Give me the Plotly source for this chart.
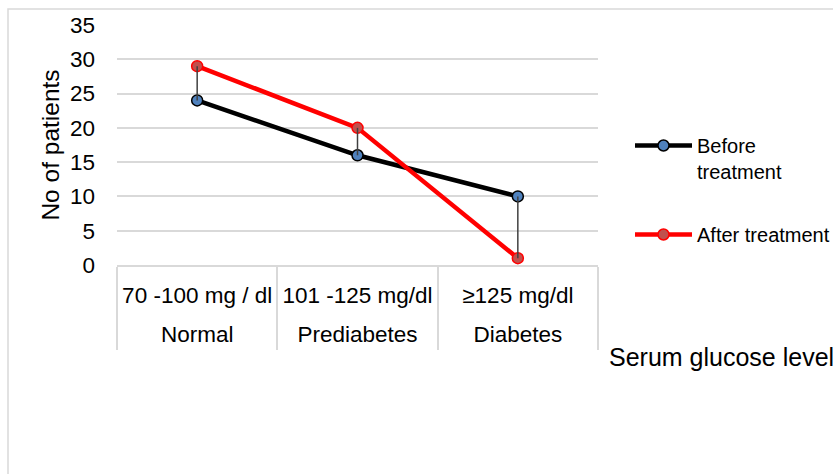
import plotly.graph_objects as go

groups = ["Normal", "Prediabetes", "Diabetes"]
ranges = ["70 -100 mg / dl", "101 -125 mg/dl", "≥125 mg/dl"]
before = [24, 16, 10]
after = [29, 20, 1]

low = [min(b, a) for b, a in zip(before, after)]
span = [abs(b - a) for b, a in zip(before, after)]

FONT = "Liberation Sans, Arial, sans-serif"
L, R, T, B = 117, 235, 25, 209
W, H = 833, 474
pw = W - L - R
ph = H - T - B


def px_x(p):
    return (p - L) / pw


def px_y(p):
    return (H - B - p) / ph


fig = go.Figure()
fig.add_trace(go.Scatter(
    x=ranges, y=before, name="Before<br>treatment", mode="lines+markers",
    line=dict(color="#000000", width=4.5),
    marker=dict(size=11, color="#4f81bd", line=dict(color="#000000", width=1.5)),
    legendgroup="a",
))
fig.add_trace(go.Scatter(
    x=ranges, y=after, name="After treatment", mode="lines+markers",
    line=dict(color="#ff0000", width=4.5),
    marker=dict(size=11, color="#c0504d", line=dict(color="#ff0000", width=1.5)),
    legendgroup="b",
))
fig.add_trace(go.Scatter(
    x=ranges, y=low, mode="markers", showlegend=False, hoverinfo="skip",
    marker=dict(size=1, opacity=0),
    error_y=dict(type="data", symmetric=False, array=span, arrayminus=[0, 0, 0],
                 width=0, thickness=1.5, color="#404040"),
))
# invisible trace on the secondary axis carrying the group labels
fig.add_trace(go.Scatter(
    x=groups, y=before, xaxis="x2", mode="markers", showlegend=False,
    hoverinfo="skip", marker=dict(size=1, opacity=0),
))

fig.update_layout(
    width=W, height=H,
    margin=dict(l=L, r=R, t=T, b=B, autoexpand=False),
    paper_bgcolor="white", plot_bgcolor="white",
    font=dict(family=FONT, color="#000000", size=22),
    showlegend=True,
    legend=dict(xref="container", yref="container",
                x=630 / W, y=1 - 126 / H, xanchor="left", yanchor="top",
                font=dict(size=20), tracegroupgap=34, valign="top",
                itemwidth=57, bgcolor="rgba(0,0,0,0)"),
    xaxis=dict(type="category", range=[-0.5, len(ranges) - 0.5],
               showgrid=False, showline=True,
               linecolor="#d9d9d9", linewidth=1.5,
               ticks="outside", tickson="boundaries", ticklen=83,
               tickcolor="#d9d9d9", tickwidth=1.5,
               tickfont=dict(size=22.5), ticklabelstandoff=9),
    xaxis2=dict(type="category", range=[-0.5, len(groups) - 0.5],
                overlaying="x", anchor="y", side="bottom",
                showgrid=False, showline=False, ticks="",
                tickfont=dict(size=22.5), ticklabelstandoff=53),
    yaxis=dict(range=[0, 35], dtick=5, showgrid=True, gridcolor="#d9d9d9",
               gridwidth=1.5, showline=False, zeroline=False,
               tickfont=dict(size=22.5), ticklabelstandoff=21,
               title=dict(text="No of patients", font=dict(size=24.5), standoff=3)),
    shapes=[dict(type="rect", xref="paper", yref="paper",
                 x0=px_x(8), x1=px_x(850), y0=px_y(490), y1=px_y(9),
                 line=dict(color="#d9d9d9", width=1.5), layer="below")],
    annotations=[dict(text="Serum glucose level", xref="paper", yref="paper",
                      x=px_x(607), y=px_y(357), xanchor="left", yanchor="middle",
                      showarrow=False, font=dict(size=25))],
)

fig.write_html("out.html")
